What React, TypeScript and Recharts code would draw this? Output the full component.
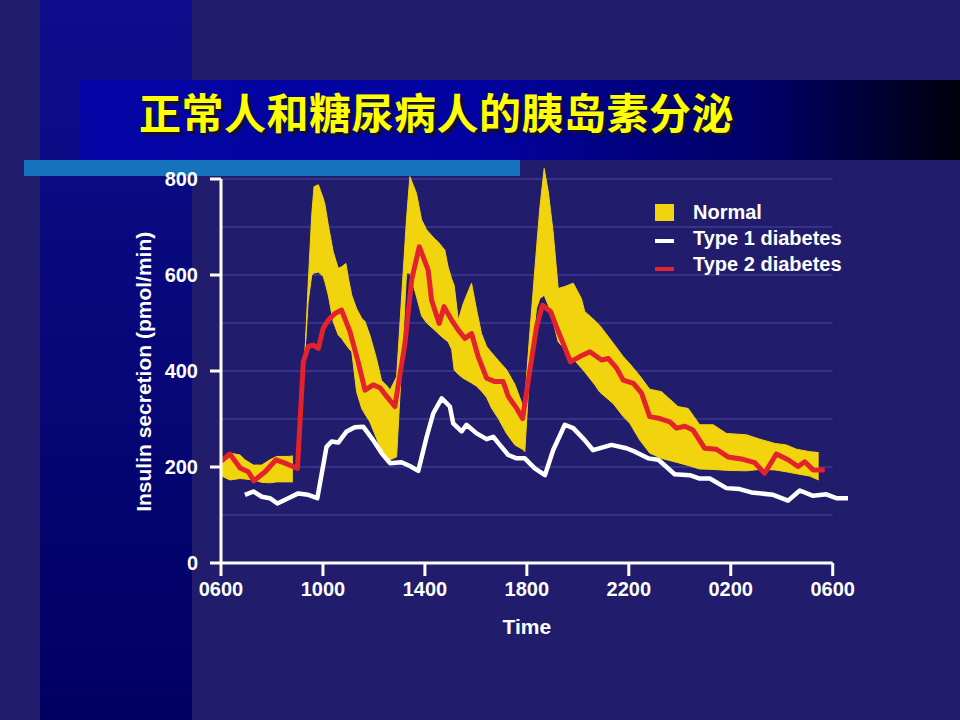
import { ComposedChart, Area, Line, XAxis, YAxis, ReferenceLine, Legend } from 'recharts';

// hours after 06:00
const xTicks = [0, 4, 8, 12, 16, 20, 24];
const xTickLabels = ['0600', '1000', '1400', '1800', '2200', '0200', '0600'];
const yTicks = [0, 200, 400, 600, 800];
const gridValues = [100, 200, 300, 400, 500, 600, 700, 800];

const normalHours = [
  0, 0.35, 0.75, 0.94, 1.27, 1.6, 1.92, 2.18, 2.64, 2.82, 3.05,
  3.29, 3.42, 3.56, 3.65, 3.82, 4.01, 4.08, 4.21, 4.4, 4.6, 4.73, 4.9, 5.0, 5.13, 5.32, 5.52, 5.65, 5.84,
  6.1, 6.3, 6.5, 6.63, 6.89, 7.28, 7.41, 7.67, 7.87, 8.07, 8.39, 8.52, 8.78, 8.91, 9.05, 9.15, 9.31,
  9.5, 9.83, 10.03, 10.22, 10.42, 10.62, 10.88, 11.2, 11.53, 11.86, 11.92, 12.12, 12.38, 12.51, 12.68,
  12.84, 13.03, 13.23, 13.49, 13.82, 14.14, 14.27, 14.67, 14.86, 15.39, 15.78, 16.04, 16.43, 16.82,
  17.28, 17.93, 18.33, 18.78, 19.31, 19.83, 20.62, 21.14, 21.73, 22.18, 22.58, 23.1, 23.45,
];
const normalLow = [
  182, 173, 176, 175, 173, 168, 167, 169, 169, 169, null,
  433, 544, 600, 604, 606, 597, 585, 558, 503, 475, 468, 455, 448, 440, 357, 322, 310, 294,
  260, 232, 211, 215, 221, 604, 604, 555, 515, 500, 485, 478, 466, 461, 445, 402, 393,
  385, 375, 368, 358, 345, 322, 301, 270, 246, 236, 232, 412, 530, 551, 558,
  537, 503, 461, 445, 425, 406, 398, 371, 356, 332, 305, 291, 256, 229,
  218, 209, 203, 196, 195, 193, 192, 195, 194, 190, 186, 181, 173,
];
const normalHigh = [
  215, 229, 225, 215, 204, 204, 215, 222, 222, 223, null,
  433, 580, 725, 784, 788, 760, 746, 704, 649, 614, 617, 624, 593, 558, 530, 510, 503, 475,
  426, 380, 370, 360, 388, 718, 805, 770, 715, 694, 675, 669, 652, 617, 592, 578, 506,
  540, 583, 527, 478, 451, 438, 422, 403, 372, 325, 340, 482, 656, 740, 822,
  774, 690, 572, 576, 583, 551, 524, 505, 495, 458, 430, 415, 390, 362,
  357, 326, 322, 288, 288, 270, 267, 258, 249, 246, 237, 232, 230,
];

const type1Hours = [
  0.94, 1.27, 1.6, 1.92, 2.21, 2.64, 3.03, 3.42, 3.78, 4.14, 4.34, 4.6, 4.93, 5.25, 5.58, 5.97,
  6.3, 6.63, 7.08, 7.41, 7.74, 8.07, 8.33, 8.66, 8.98, 9.11, 9.44, 9.63, 10.03, 10.42, 10.68, 10.94,
  11.27, 11.6, 11.92, 12.31, 12.71, 13.03, 13.49, 13.82, 14.27, 14.6, 15.32, 15.91, 16.24, 16.76,
  17.16, 17.8, 18.39, 18.78, 19.18, 19.83, 20.35, 20.81, 21.66, 22.25, 22.71, 23.23, 23.75, 24.14, 24.6,
];
const type1Values = [
  142, 149, 138, 135, 124, 135, 145, 142, 135, 242, 253, 251, 274, 283, 284, 256,
  229, 208, 210, 202, 192, 263, 312, 343, 326, 291, 274, 288, 270, 258, 263, 246,
  225, 218, 218, 197, 183, 235, 288, 281, 256, 235, 246, 239, 232, 218,
  215, 185, 183, 176, 176, 156, 154, 147, 142, 130, 151, 140, 143, 135, 135,
];

const type2Hours = [
  0, 0.35, 0.75, 1.07, 1.29, 1.73, 2.16, 2.51, 3.0, 3.23, 3.42, 3.62, 3.82, 4.01, 4.21, 4.47, 4.73,
  5.06, 5.38, 5.65, 5.97, 6.24, 6.5, 6.82, 7.22, 7.48, 7.78, 8.13, 8.26, 8.56, 8.75, 9.05, 9.31,
  9.57, 9.83, 10.09, 10.42, 10.75, 11.07, 11.27, 11.6, 11.83, 12.12, 12.38, 12.61, 12.93, 13.16,
  13.42, 13.71, 14.08, 14.47, 14.93, 15.2, 15.52, 15.78, 16.18, 16.5, 16.82, 17.22, 17.61, 17.87,
  18.2, 18.52, 18.98, 19.44, 19.89, 20.48, 20.94, 21.33, 21.79, 22.25, 22.64, 22.9, 23.23, 23.69,
];
const type2Values = [
  212, 227, 198, 190, 171, 190, 215, 208, 197, 419, 451, 454, 447, 489, 506, 520, 527,
  482, 419, 360, 371, 365, 347, 326, 458, 590, 659, 610, 548, 499, 534, 506, 485,
  468, 478, 430, 385, 378, 378, 347, 322, 301, 402, 492, 537, 524, 492,
  458, 419, 430, 440, 423, 426, 406, 381, 374, 354, 305, 301, 294, 281,
  285, 277, 239, 237, 221, 216, 209, 187, 227, 215, 201, 211, 194, 194,
];

const legendItems = [
  { name: 'Normal', color: '#f2d40e', kind: 'box' },
  { name: 'Type 1 diabetes', color: '#ffffff', kind: 'dash' },
  { name: 'Type 2 diabetes', color: '#e3222b', kind: 'dash' },
];

const normalData = normalHours.map((h, i) => ({
  h,
  range: normalLow[i] == null ? null : [normalLow[i], normalHigh[i]],
}));
const type1Data = type1Hours.map((h, i) => ({ h, v: type1Values[i] }));
const type2Data = type2Hours.map((h, i) => ({ h, v: type2Values[i] }));

const tickStyle = { fill: '#ffffff', fontSize: 20, fontWeight: 700 };

function LegendBox() {
  return (
    <div style={{ color: '#fff', fontSize: 20, fontWeight: 700 }}>
      {legendItems.map((item, i) => (
        <div key={item.name} style={{ display: 'flex', alignItems: 'center', height: 26 }}>
          <div style={{ width: 38, display: 'flex' }}>
            {item.kind === 'box' ? (
              <span style={{ width: 19, height: 17, background: item.color }} />
            ) : (
              <span style={{ width: 19, height: 4, marginTop: i === 1 ? 6 : 10, background: item.color }} />
            )}
          </div>
          <span style={{ lineHeight: '26px' }}>{item.name}</span>
        </div>
      ))}
    </div>
  );
}

export default function App() {
  return (
    <div
      style={{
        position: 'absolute', left: 0, top: 0, width: 960, height: 720, overflow: 'hidden',
        background: '#221c6c', fontFamily: '"Liberation Sans", Arial, sans-serif',
      }}
    >
      <div style={{ position: 'absolute', left: 40, top: 0, width: 152, height: 720, background: 'linear-gradient(to bottom, #0e0e8e, #000062)' }} />
      <div style={{ position: 'absolute', left: 80, top: 80, width: 880, height: 80, background: 'linear-gradient(to right, #0606a6 0%, #0202a0 45%, #000060 80%, #00000c 100%)' }} />
      <div
        style={{
          position: 'absolute', left: 139, top: 90, fontSize: 42, lineHeight: '42px', fontWeight: 700,
          color: '#ffff00', fontFamily: '"Noto Sans CJK SC", sans-serif', letterSpacing: 0.5,
          textShadow: '3px 3px 1px #111130',
        }}
      >
        正常人和糖尿病人的胰岛素分泌
      </div>
      <div style={{ position: 'absolute', left: 24, top: 160, width: 496, height: 16, background: '#1572bc' }} />

      <div style={{ position: 'absolute', left: 0, top: 0 }}>
        {/* domain runs a little past 800 so the tallest normal peak is not cut; 800 still lands at y=179 */}
        <ComposedChart width={960} height={720} margin={{ top: 164.6, right: 112, bottom: 97, left: 67 }}>
          {gridValues.map((g) => (
            <ReferenceLine key={g} segment={[{ x: 0, y: g }, { x: 24, y: g }]} stroke="#4d48a2" strokeWidth={1} zIndex={-100} />
          ))}
          <XAxis
            type="number"
            dataKey="h"
            domain={[0, 24.6]}
            ticks={xTicks}
            tickFormatter={(v) => xTickLabels[xTicks.indexOf(v)]}
            axisLine={false}
            tickLine={{ stroke: '#ffffff', strokeWidth: 3 }}
            tickSize={13}
            tickMargin={6}
            tick={tickStyle}
            height={60}
            interval={0}
          />
          <YAxis
            type="number"
            domain={[0, 830]}
            allowDataOverflow
            ticks={yTicks}
            axisLine={false}
            tickLine={{ stroke: '#ffffff', strokeWidth: 3 }}
            tickSize={11}
            tickMargin={12}
            tick={tickStyle}
            width={154}
            interval={0}
            label={{
              value: 'Insulin secretion (pmol/min)', angle: -90, position: 'center',
              fill: '#ffffff', fontSize: 21, fontWeight: 700, dy: 8,
            }}
          />
          <Area
            data={normalData}
            dataKey="range"
            type="linear"
            fill="#f2d40e"
            fillOpacity={1}
            stroke="#f2d40e"
            strokeWidth={1}
            isAnimationActive={false}
            activeDot={false}
            dot={false}
          />
          <Line
            data={type1Data}
            dataKey="v"
            type="linear"
            stroke="#ffffff"
            strokeWidth={4.5}
            strokeLinejoin="round"
            dot={false}
            activeDot={false}
            isAnimationActive={false}
          />
          <Line
            data={type2Data}
            dataKey="v"
            type="linear"
            stroke="#e3222b"
            strokeWidth={5}
            strokeLinejoin="round"
            dot={false}
            activeDot={false}
            isAnimationActive={false}
          />
          <ReferenceLine segment={[{ x: 0, y: 0 }, { x: 0, y: 800 }]} stroke="#ffffff" strokeWidth={3} />
          <ReferenceLine
            segment={[{ x: 0, y: 0 }, { x: 24, y: 0 }]}
            stroke="#ffffff"
            strokeWidth={3}
            label={{ value: 'Time', position: 'bottom', offset: 56, fill: '#ffffff', fontSize: 21, fontWeight: 700 }}
          />
          <Legend
            layout="horizontal"
            align="center"
            verticalAlign="middle"
            wrapperStyle={{ position: 'absolute', left: 655, top: 199, width: 'auto' }}
            content={() => <LegendBox />}
          />
        </ComposedChart>
      </div>
    </div>
  );
}
